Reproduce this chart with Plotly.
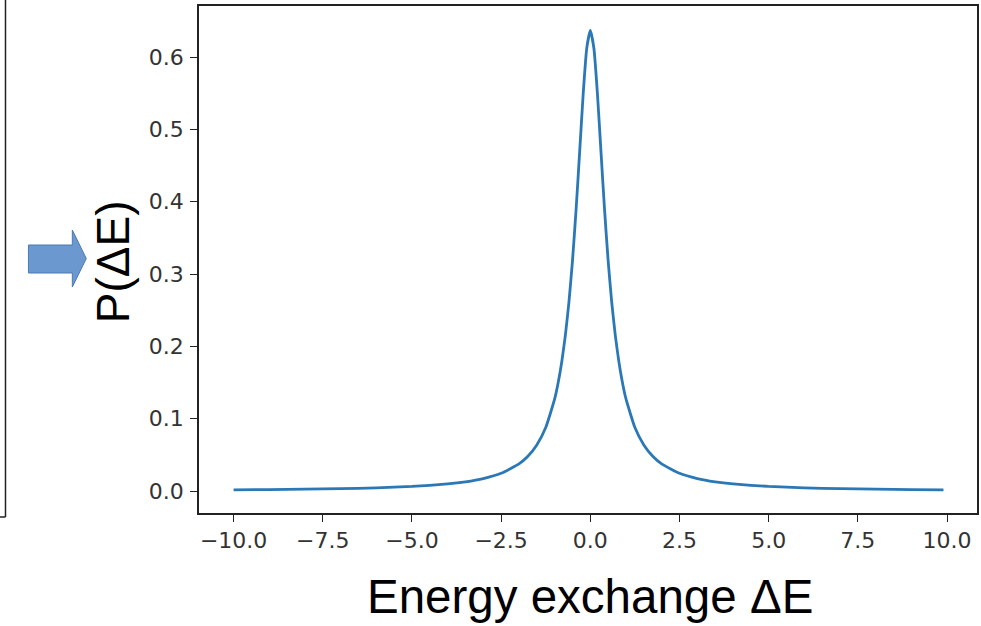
import plotly.graph_objects as go

# Data (energy exchange vs probability)
energy = [-10.0, -9.0, -8.0, -7.0, -6.0, -5.0, -4.0, -3.5, -3.0, -2.5, -2.0, -1.75, -1.5, -1.25,
          -1.0, -0.9, -0.8, -0.7, -0.6, -0.5, -0.4, -0.3, -0.2, -0.1, 0.0,
          0.1, 0.2, 0.3, 0.4, 0.5, 0.6, 0.7, 0.8, 0.9, 1.0,
          1.25, 1.5, 1.75, 2.0, 2.5, 3.0, 3.5, 4.0, 5.0, 6.0, 7.0, 8.0, 9.0, 9.9]
prob = [0.0016, 0.0020, 0.0025, 0.0032, 0.0044, 0.0063, 0.0098, 0.0127, 0.0172, 0.0245, 0.0375, 0.0481, 0.0637, 0.0878,
        0.1273, 0.1501, 0.1788, 0.2151, 0.2609, 0.3183, 0.3882, 0.4681, 0.5488, 0.6121, 0.6366,
        0.6121, 0.5488, 0.4681, 0.3882, 0.3183, 0.2609, 0.2151, 0.1788, 0.1501, 0.1273,
        0.0878, 0.0637, 0.0481, 0.0375, 0.0245, 0.0172, 0.0127, 0.0098, 0.0063, 0.0044, 0.0032, 0.0025, 0.0020, 0.0016]

x_ticks = [-10.0, -7.5, -5.0, -2.5, 0.0, 2.5, 5.0, 7.5, 10.0]
x_tick_labels = ["\u221210.0", "\u22127.5", "\u22125.0", "\u22122.5", "0.0", "2.5", "5.0", "7.5", "10.0"]
y_ticks = [0.0, 0.1, 0.2, 0.3, 0.4, 0.5, 0.6]
y_tick_labels = ["0.0", "0.1", "0.2", "0.3", "0.4", "0.5", "0.6"]

W, H = 981, 626
L, R, T, B = 199, 979, 6, 513


def px(xp):
    return (xp - L) / (R - L)


def py(yp):
    return (B - yp) / (B - T)


fig = go.Figure()
fig.add_trace(go.Scatter(x=energy, y=prob, mode="lines",
                         line=dict(color="#2a78b6", width=2.8, shape="spline", smoothing=0.5),
                         showlegend=False, hoverinfo="skip"))

axis_common = dict(showgrid=False, zeroline=False, showline=True, mirror=True,
                   linecolor="#222222", linewidth=1.5, ticks="outside", ticklen=7,
                   tickcolor="#222222", tickwidth=1.3,
                   tickfont=dict(family="DejaVu Sans", size=22, color="#333333"))

fig.update_xaxes(range=[-10.97, 10.84], tickvals=x_ticks, ticktext=x_tick_labels, **axis_common)
fig.update_yaxes(range=[-0.0304, 0.6705], tickvals=y_ticks, ticktext=y_tick_labels,
                 ticklabelstandoff=2, **axis_common)

shapes = [
    # block arrow pointing at the y-axis title
    dict(type="path", xref="paper", yref="paper",
         path=("M {a},{b} L {c},{b} L {c},{d} L {e},{f} L {c},{g} L {c},{h} L {a},{h} Z").format(
             a=px(28), b=py(245), c=px(72), d=py(230), e=px(86), f=py(258.5), g=py(287), h=py(273)),
         fillcolor="#6b98cf", line=dict(color="#4d79b3", width=1)),
    # edge of a neighbouring box on the far left
    dict(type="line", xref="paper", yref="paper", x0=px(5), x1=px(5), y0=py(-2), y1=py(517),
         line=dict(color="#222222", width=1.5)),
    dict(type="line", xref="paper", yref="paper", x0=px(-2), x1=px(5), y0=py(517), y1=py(517),
         line=dict(color="#222222", width=1.5)),
]

annotations = [
    dict(text="Energy exchange \u0394E", xref="paper", yref="paper", x=px(591), y=py(596),
         xanchor="center", yanchor="middle", showarrow=False,
         font=dict(family="Liberation Sans", size=47.5, color="#000000")),
    dict(text="P(\u0394E)", xref="paper", yref="paper", x=px(113), y=py(262),
         xanchor="center", yanchor="middle", textangle=-90, showarrow=False,
         font=dict(family="Liberation Sans", size=46, color="#000000")),
]

fig.update_layout(width=W, height=H, margin=dict(l=L, r=W - R, t=T, b=H - B),
                  paper_bgcolor="white", plot_bgcolor="white",
                  shapes=shapes, annotations=annotations)

fig.write_html("out.html", config={"displayModeBar": False},
               post_script="document.body.style.margin='0';document.body.style.overflow='hidden';")
